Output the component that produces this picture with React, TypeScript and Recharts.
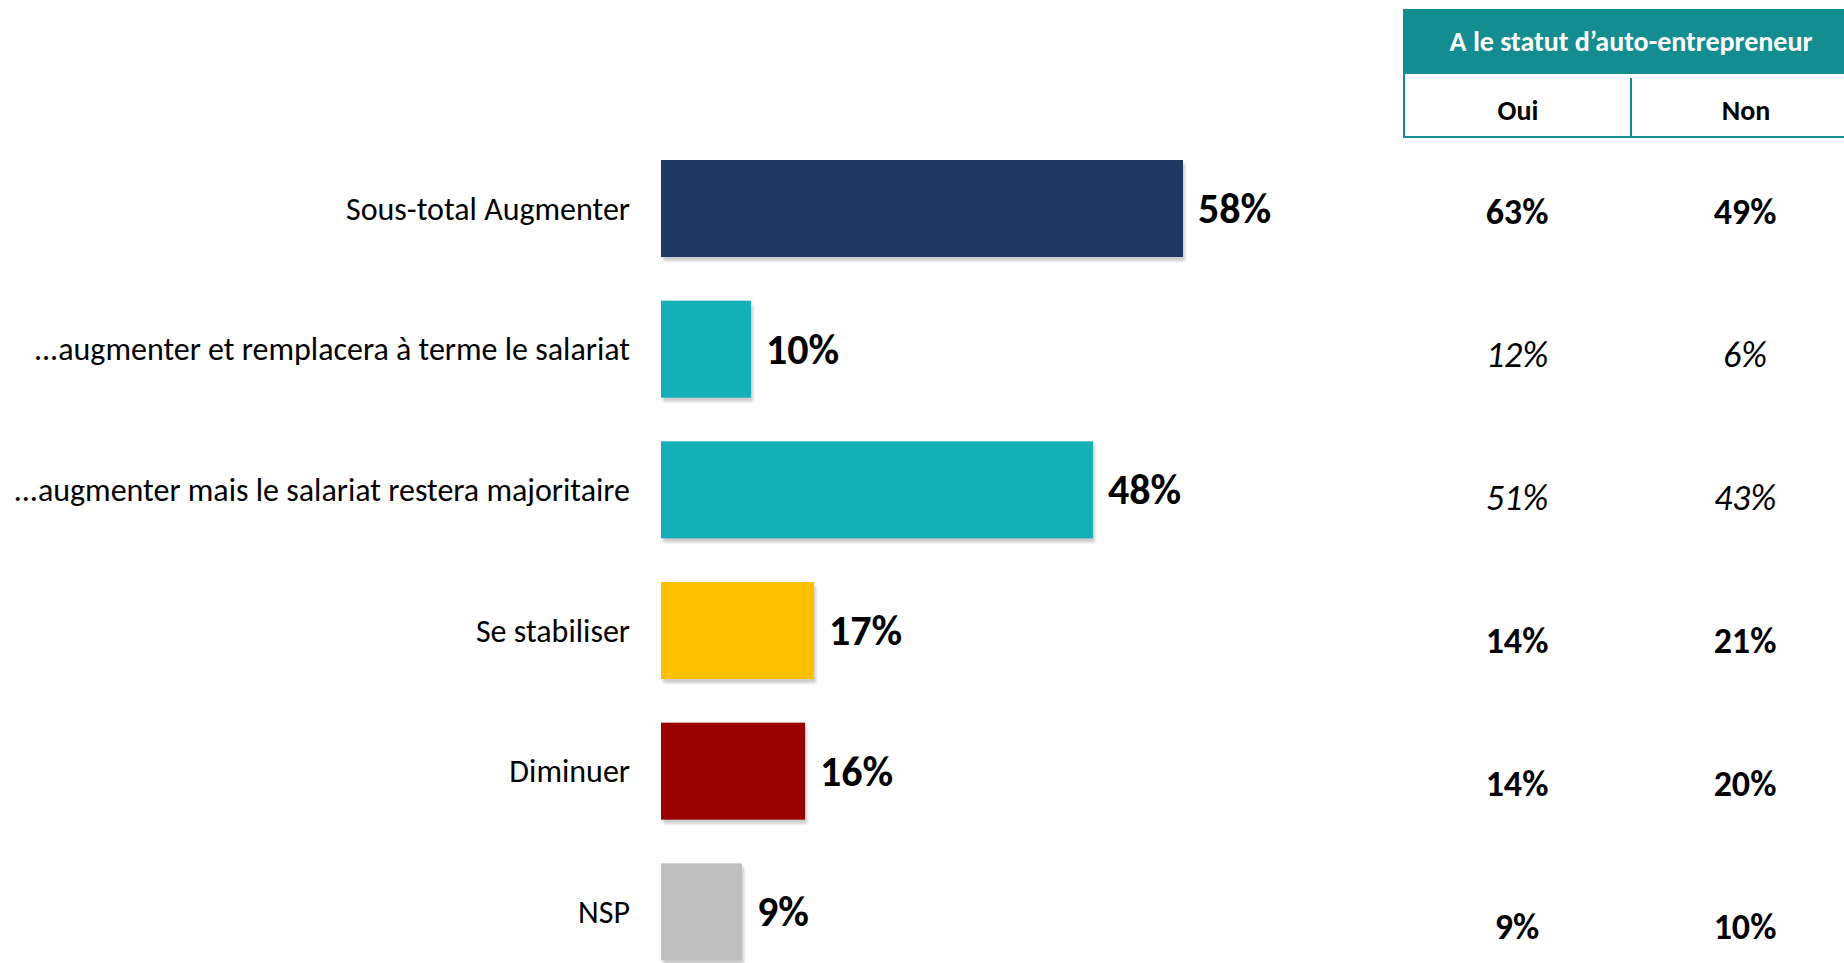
import React from 'react';
import { BarChart, Bar, XAxis, YAxis, LabelList } from 'recharts';

const categories = [
  'Sous-total Augmenter',
  '...augmenter et remplacera à terme le salariat',
  '...augmenter mais le salariat restera majoritaire',
  'Se stabiliser',
  'Diminuer',
  'NSP',
];
const totalValues = [58, 10, 48, 17, 16, 9];
const ouiValues = [63, 12, 51, 14, 14, 9];
const nonValues = [49, 6, 43, 21, 20, 10];
const italicRows = [false, true, true, false, false, false];
const barColors = ['#203864', '#14AFB7', '#14AFB7', '#FFC000', '#990000', '#BFBFBF'];

const headerTitle = 'A le statut d’auto-entrepreneur';
const columnLabels = ['Oui', 'Non'];

const FONT = 'Carlito, Lato, "Open Sans", sans-serif';
const TEAL = '#138D90';
const COL_OUI_X = 1517;
const COL_NON_X = 1745;

const data = categories.map((name, i) => ({
  name,
  total: totalValues[i],
  oui: ouiValues[i],
  non: nonValues[i],
}));

const ShadowBar = (props: any) => {
  const { x, y, width, height, index } = props;
  return (
    <g>
      {index === 0 && (
        <defs>
          <filter id="barShadow" x="-10%" y="-10%" width="130%" height="140%">
            <feGaussianBlur stdDeviation="1.5" />
          </filter>
        </defs>
      )}
      <rect x={x + 2} y={y + 4} width={width} height={height} fill="#000" opacity={0.2} filter="url(#barShadow)" />
      <rect x={x} y={y} width={width} height={height} fill={barColors[index]} />
    </g>
  );
};

const makeColumnLabel = (colX: number) => (props: any) => {
  const { y, height, value, index } = props;
  const italic = italicRows[index];
  return (
    <text
      x={colX}
      y={y + height / 2}
      textAnchor="middle"
      dominantBaseline="central"
      fontFamily={FONT}
      fontSize={36}
      fontWeight={italic ? 400 : 700}
      fontStyle={italic ? 'italic' : 'normal'}
      fill="#000"
    >
      {value}%
    </text>
  );
};

const ValueLabel = (props: any) => {
  const { x, y, width, height, value } = props;
  return (
    <text
      x={x + width + 15}
      y={y + height / 2}
      dominantBaseline="central"
      fontFamily={FONT}
      fontSize={42}
      fontWeight={700}
      fill="#000"
    >
      {value}%
    </text>
  );
};

export default function App() {
  return (
    <div style={{ position: 'relative', width: 1844, height: 963, overflow: 'hidden', background: '#fff', fontFamily: FONT }}>
      <style>{'body{margin:0;overflow:hidden}'}</style>
      <div
        style={{
          position: 'absolute', left: 1403, top: 9, width: 456, height: 65, background: TEAL,
          color: '#fff', fontWeight: 700, fontSize: 28, display: 'flex', alignItems: 'center', justifyContent: 'center',
        }}
      >
        {headerTitle}
      </div>
      <div
        style={{
          position: 'absolute', left: 1403, top: 74, width: 454, height: 62,
          borderLeft: `2px solid ${TEAL}`, borderBottom: `2px solid ${TEAL}`,
        }}
      />
      <div style={{ position: 'absolute', left: 1630, top: 78, width: 2, height: 60, background: TEAL }} />
      {columnLabels.map((c, i) => (
        <div
          key={c}
          style={{
            position: 'absolute', left: 1405 + i * 228, top: 80, width: 226, height: 60,
            display: 'flex', alignItems: 'center', justifyContent: 'center',
            fontWeight: 700, fontSize: 28, color: '#000',
          }}
        >
          {c}
        </div>
      ))}
      <div style={{ position: 'absolute', left: 0, top: 0 }}>
        <BarChart
          layout="vertical"
          width={1844}
          height={1000}
          data={data}
          margin={{ top: 138, right: 283, bottom: 1, left: 0 }}
        >
          <XAxis type="number" domain={[0, 100]} hide />
          <XAxis xAxisId="t" type="number" domain={[0, 1000000]} hide />
          <YAxis
            type="category"
            dataKey="name"
            width={661}
            axisLine={false}
            tickLine={false}
            tickSize={0}
            tickMargin={31}
            padding={{ top: 0, bottom: 17 }}
            tick={{ fontSize: 32, fill: '#000', fontFamily: FONT }}
          />
          <YAxis yAxisId="t" type="category" dataKey="name" hide padding={{ top: 3, bottom: 0 }} />
          <Bar dataKey="total" barSize={97} shape={<ShadowBar />} isAnimationActive={false}>
            <LabelList dataKey="total" content={<ValueLabel />} />
          </Bar>
          <Bar dataKey="oui" xAxisId="t" yAxisId="t" fill="transparent" isAnimationActive={false}>
            <LabelList dataKey="oui" content={makeColumnLabel(COL_OUI_X)} />
            <LabelList dataKey="non" content={makeColumnLabel(COL_NON_X)} />
          </Bar>
        </BarChart>
      </div>
    </div>
  );
}
